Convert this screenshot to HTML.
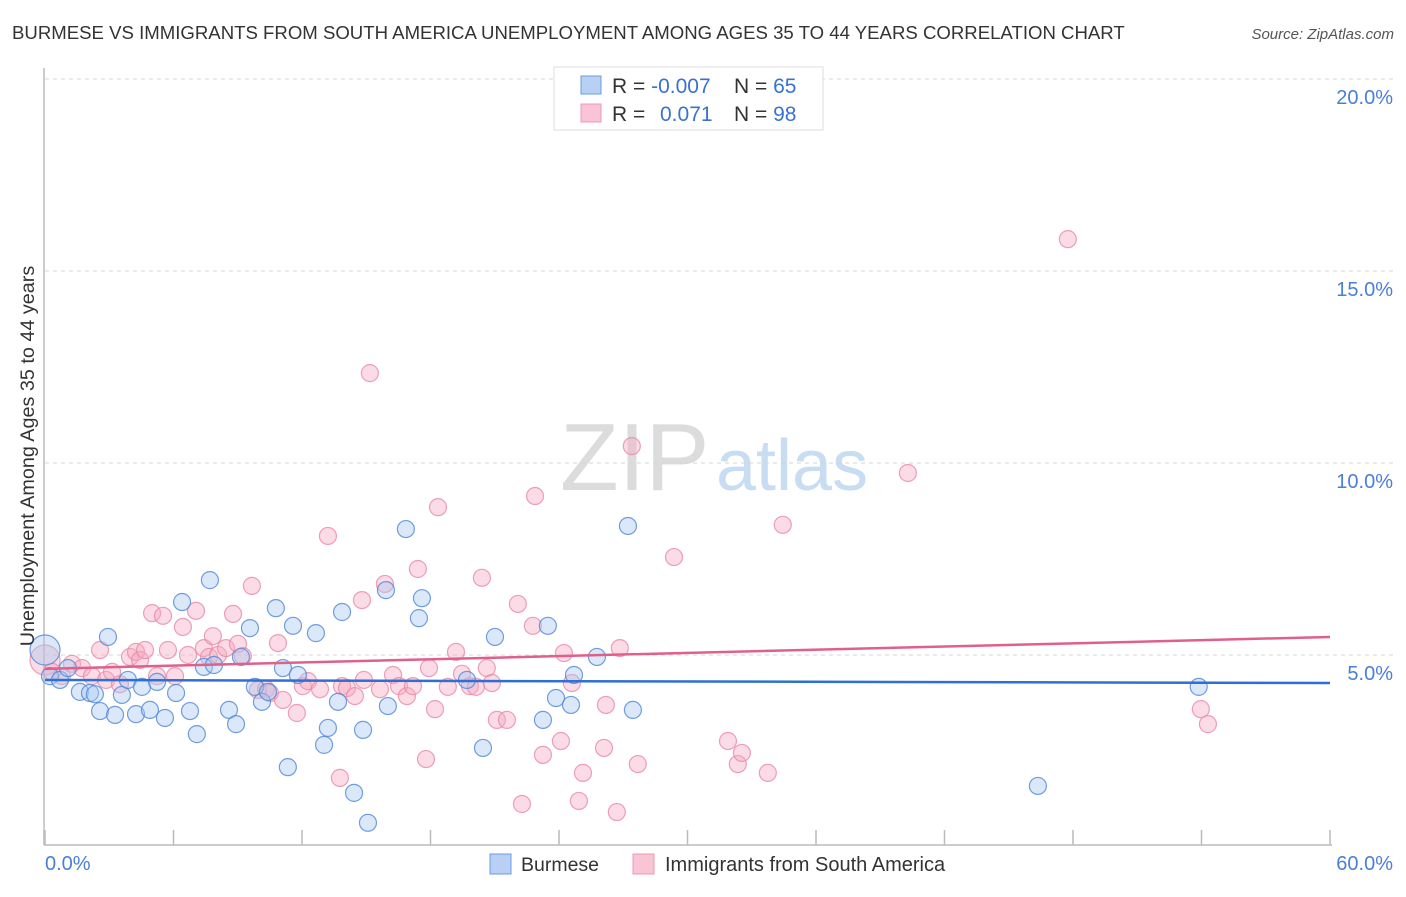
<!DOCTYPE html>
<html><head><meta charset="utf-8"><style>
body{margin:0;background:#fff;font-family:"Liberation Sans",sans-serif;}
svg text{font-family:"Liberation Sans",sans-serif;}
</style></head><body>
<svg id="chart" width="1406" height="892" xmlns="http://www.w3.org/2000/svg">
<text x="12" y="39" font-size="18.6" fill="#333">BURMESE VS IMMIGRANTS FROM SOUTH AMERICA UNEMPLOYMENT AMONG AGES 35 TO 44 YEARS CORRELATION CHART</text>
<text x="1394" y="39" font-size="15" fill="#555" text-anchor="end" font-style="italic">Source: ZipAtlas.com</text>
<text x="560" y="490" font-size="96" fill="#dcdcdc" font-family="Liberation Serif">ZIP</text>
<text x="716" y="490" font-size="72" fill="#c8dcf2">atlas</text>
<g id="grid"></g>
<line x1="44" y1="68" x2="44" y2="845" stroke="#bbb" stroke-width="1.5"/>
<line x1="44" y1="845" x2="1332" y2="845" stroke="#bbb" stroke-width="1.5"/>
<g id="xticks"></g>
<g id="pts"></g>
<g id="trends"></g>
<text transform="translate(34,456) rotate(-90)" font-size="19.8" fill="#333" text-anchor="middle">Unemployment Among Ages 35 to 44 years</text>
<text x="45" y="870" font-size="20" fill="#4a7fd6">0.0%</text>
<text x="1393" y="870" font-size="20" fill="#4a7fd6" text-anchor="end">60.0%</text>
<g>
<rect x="554" y="67" width="269" height="63" fill="#fff" stroke="#ddd"/>
<rect x="581" y="76" width="20" height="18" fill="#b7d0f4" stroke="#6d9be0"/>
<rect x="581" y="104" width="20" height="18" fill="#f9c4d4" stroke="#ec9ab5"/>
<text x="612" y="93" font-size="21" fill="#333">R = <tspan fill="#3a72d0">-0.007</tspan></text>
<text x="734" y="93" font-size="21" fill="#333">N = <tspan fill="#3a72d0">65</tspan></text>
<text x="612" y="121" font-size="21" fill="#333">R = </text>
<text x="660" y="121" font-size="21" fill="#3a72d0">0.071</text>
<text x="734" y="121" font-size="21" fill="#333">N = <tspan fill="#3a72d0">98</tspan></text>
</g>
<g>
<rect x="490" y="854" width="21" height="20" fill="#b7d0f4" stroke="#6d9be0"/>
<text x="521" y="871" font-size="19.5" fill="#333">Burmese</text>
<rect x="633" y="854" width="21" height="20" fill="#f9c4d4" stroke="#ec9ab5"/>
<text x="665" y="871" font-size="20" fill="#333">Immigrants from South America</text>
</g>
</svg>
<script>
const yTicks=[5,10,15,20];
const yTickLabels=["5.0%","10.0%","15.0%","20.0%"];
const xTickVals=[0,6,12,18,24,30,36,42,48,54,60];
const blueX=[0,0.23,0.7,1.07,1.63,2.1,2.33,2.94,2.57,3.27,3.59,3.87,4.25,4.53,4.9,5.23,5.6,6.12,6.4,6.77,7.09,7.42,7.7,7.89,8.59,8.92,9.15,9.57,9.8,10.13,10.41,10.78,11.11,11.34,11.58,11.81,12.65,13.03,13.21,13.68,13.87,14.43,14.85,15.08,15.92,16.01,16.85,17.46,17.6,19.7,20.45,21.01,23.25,23.48,23.86,24.56,24.7,25.77,27.22,27.45,46.36,53.87];
const blueY=[5.13,4.45,4.35,4.66,4.04,4.01,3.98,5.47,3.54,3.44,3.96,4.35,3.46,4.17,3.57,4.3,3.36,4.01,6.38,3.54,2.94,4.69,6.95,4.74,3.57,3.2,4.95,5.7,4.17,3.78,4.04,6.22,4.66,2.08,5.76,4.48,5.57,2.66,3.1,3.78,6.12,1.41,3.05,0.63,6.69,3.67,8.28,5.96,6.48,4.35,2.58,5.47,3.31,5.76,3.88,3.7,4.48,4.95,8.36,3.57,1.59,4.17];
const pinkX=[0,0.33,0.79,1.26,1.73,2.19,2.57,2.85,3.13,3.5,3.97,4.25,4.44,4.67,5,5.23,5.51,5.74,6.07,6.44,6.68,7.05,7.42,7.66,7.84,8.08,8.45,8.78,9.01,9.24,9.66,9.94,10.32,10.5,10.88,11.11,11.76,12.04,12.28,12.84,13.21,13.77,13.87,14.1,14.47,14.8,14.89,15.17,15.64,15.87,16.25,16.53,16.9,17.18,17.41,17.79,17.93,18.21,18.35,18.81,19.19,19.47,19.84,20.12,20.4,20.63,20.87,21.1,21.57,22.08,22.27,22.78,22.88,23.25,24.09,24.23,24.6,24.93,25.12,26.1,26.19,26.7,26.84,27.4,27.68,29.37,31.89,32.35,32.54,33.75,34.45,40.29,47.76,53.97,54.3];
const pinkY=[4.87,4.56,4.45,4.77,4.66,4.45,5.13,4.35,4.56,4.24,4.95,5.08,4.87,5.13,6.09,4.45,6.02,5.13,4.45,5.73,5,6.15,5.18,4.95,5.49,5,5.18,6.07,5.29,4.97,6.8,4.09,4.11,4.01,5.31,3.83,3.49,4.19,4.32,4.11,8.1,1.8,4.19,4.14,3.93,6.43,4.35,12.34,4.11,6.85,4.48,4.19,3.93,4.19,7.24,2.29,4.66,3.59,8.85,4.17,5.08,4.51,4.19,4.17,7.01,4.66,4.27,3.31,3.31,6.33,1.12,5.76,9.14,2.4,2.76,5.05,4.27,1.2,1.93,2.58,3.7,0.91,5.18,10.44,2.16,7.55,2.76,2.16,2.45,1.93,8.39,9.74,15.83,3.59,3.2];
const trendX=[0,60];
const blueTrend=[4.35,4.27];
const pinkTrend=[4.64,5.47];

const NS="http://www.w3.org/2000/svg";
const X0=45,X1=1330,Y0=847,PPY=38.4;
function sx(v){return X0+(v/60)*(X1-X0);}
function sy(v){return Y0-v*PPY;}
function mk(tag,attrs,parent){const e=document.createElementNS(NS,tag);for(const k in attrs)e.setAttribute(k,attrs[k]);parent.appendChild(e);return e;}
const grid=document.getElementById('grid');
yTicks.forEach((t,i)=>{
  const l=mk('line',{x1:45,x2:1394,y1:sy(t),y2:sy(t),stroke:'#d6d6d6','stroke-dasharray':'4,4'},grid);
  
  
  const tx=mk('text',{x:1393,y:sy(t)+25,'font-size':20,fill:'#4a7fd6','text-anchor':'end'},grid);
  tx.textContent=yTickLabels[i];
  
  
});
const xt=document.getElementById('xticks');
xTickVals.forEach(v=>{
  const l=mk('line',{x1:sx(v),x2:sx(v),y1:830,y2:845,stroke:'#bbb','stroke-width':1.5},xt);
  
  
});
const pts=document.getElementById('pts');
function drawSeries(xs,ys,fill,stroke,name){
  xs.forEach((x,i)=>{
    const big=(i===0);
    const c=mk('circle',{cx:sx(x),cy:sy(ys[i]),r:big?15:8.5,fill:fill,'fill-opacity':0.42,stroke:stroke,'stroke-opacity':0.8,'stroke-width':1.2},pts);
    
    
  });
}
drawSeries(pinkX,pinkY,'#f5aac2','#e88aa8','immigrants-point');
drawSeries(blueX,blueY,'#a9c8f0','#4f86d8','burmese-point');
const tr=document.getElementById('trends');
const b=mk('line',{x1:sx(trendX[0]),x2:sx(trendX[1]),y1:sy(blueTrend[0]),y2:sy(blueTrend[1]),stroke:'#2f6fd3','stroke-width':2.5},tr);


const p=mk('line',{x1:sx(trendX[0]),x2:sx(trendX[1]),y1:sy(pinkTrend[0]),y2:sy(pinkTrend[1]),stroke:'#e0608c','stroke-width':2.5},tr);


</script>
</body></html>
